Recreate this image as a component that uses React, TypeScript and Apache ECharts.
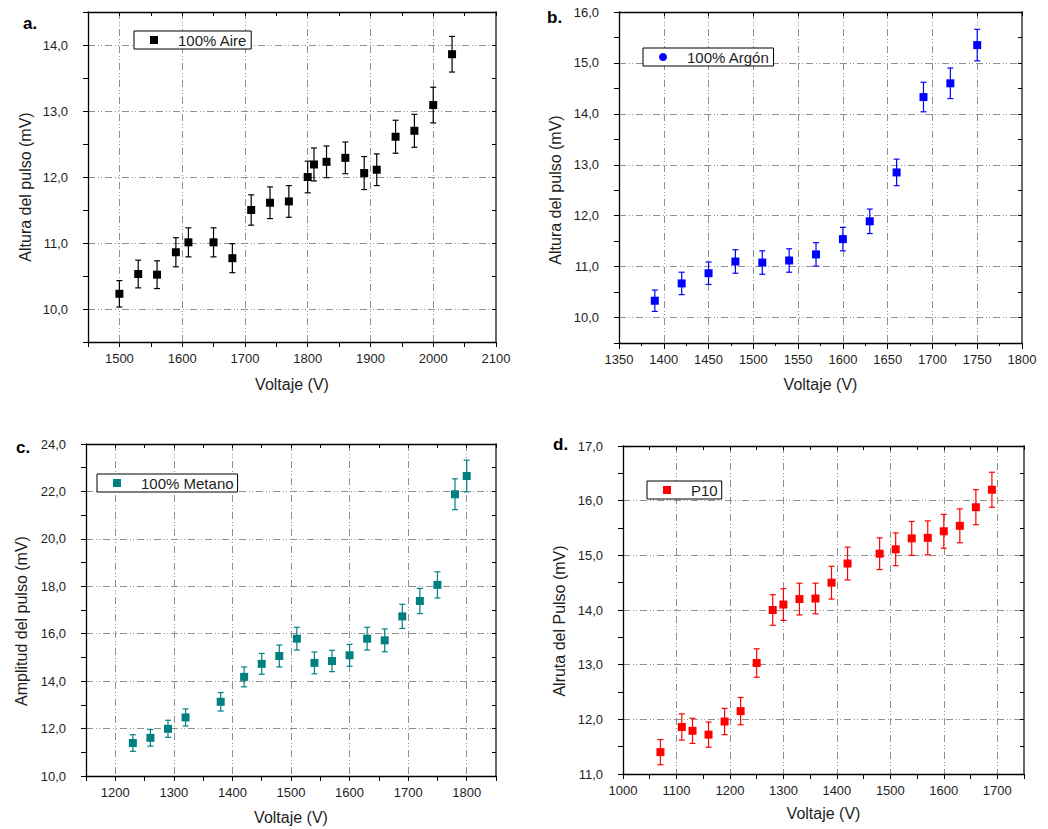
import React, { useEffect, useRef } from 'react';
import * as echarts from 'echarts';

// ---------- DATA ----------
// a. 100% Aire
const aireVoltage = [1500, 1530, 1560, 1590, 1610, 1650, 1680, 1710, 1740, 1770, 1800, 1810, 1830, 1860, 1890, 1910, 1940, 1970, 2000, 2030];
const aireHeight = [10.23, 10.53, 10.52, 10.86, 11.01, 11.01, 10.77, 11.5, 11.61, 11.63, 12.0, 12.19, 12.23, 12.29, 12.06, 12.11, 12.61, 12.7, 13.09, 13.86];
const aireError = [0.2, 0.21, 0.21, 0.22, 0.22, 0.22, 0.22, 0.23, 0.24, 0.24, 0.24, 0.25, 0.24, 0.24, 0.25, 0.24, 0.25, 0.25, 0.27, 0.27];

// b. 100% Argón
const argonVoltage = [1390, 1420, 1450, 1480, 1510, 1540, 1570, 1600, 1630, 1660, 1690, 1720, 1750];
const argonHeight = [10.33, 10.67, 10.87, 11.1, 11.08, 11.12, 11.24, 11.54, 11.89, 12.85, 14.33, 14.6, 15.35];
const argonError = [0.21, 0.22, 0.22, 0.23, 0.23, 0.23, 0.23, 0.23, 0.24, 0.26, 0.29, 0.3, 0.31];

// c. 100% Metano
const metanoVoltage = [1230, 1260, 1290, 1320, 1380, 1420, 1450, 1480, 1510, 1540, 1570, 1600, 1630, 1660, 1690, 1720, 1750, 1780, 1800];
const metanoAmplitude = [11.39, 11.61, 11.99, 12.47, 13.13, 14.18, 14.73, 15.06, 15.79, 14.77, 14.85, 15.09, 15.79, 15.72, 16.73, 17.38, 18.06, 21.88, 22.65];
const metanoError = [0.35, 0.35, 0.36, 0.36, 0.39, 0.42, 0.44, 0.46, 0.48, 0.46, 0.45, 0.46, 0.48, 0.48, 0.51, 0.53, 0.55, 0.65, 0.67];

// d. P10
const p10Voltage = [1070, 1110, 1130, 1160, 1190, 1220, 1250, 1280, 1300, 1330, 1360, 1390, 1420, 1480, 1510, 1540, 1570, 1600, 1630, 1660, 1690];
const p10Height = [11.4, 11.86, 11.79, 11.72, 11.96, 12.15, 13.03, 14.0, 14.1, 14.2, 14.21, 14.5, 14.85, 15.03, 15.11, 15.31, 15.32, 15.44, 15.54, 15.88, 16.2];
const p10Error = [0.23, 0.24, 0.23, 0.23, 0.24, 0.25, 0.26, 0.28, 0.29, 0.29, 0.28, 0.3, 0.3, 0.29, 0.3, 0.31, 0.31, 0.31, 0.31, 0.32, 0.32];

// ---------- STYLE / LAYOUT ----------
const FONT = "'Liberation Sans', Arial, Helvetica, sans-serif";
const GRIDC = '#8f8f8f';
const TX = '#1e1e1e';

const panels = [
  {
    letter: 'a.', letterPos: [23, 32],
    grid: { left: 88, top: 12, width: 408, height: 330 },
    x: { min: 1450, max: 2100, interval: 50, every: 100, colors: ['transparent', GRIDC], minor: false },
    y: { min: 9.5, max: 14.5, interval: 0.5, every: 1, colors: ['transparent', GRIDC] },
    name: '100% Aire', color: '#000000', icon: 'rect',
    xs: aireVoltage, ys: aireHeight, es: aireError,
    yName: 'Altura del pulso (mV)', yNamePos: [25, 187],
    legend: { left: 134, top: 31 }, xNameGap: 34,
  },
  {
    letter: 'b.', letterPos: [547, 26],
    grid: { left: 619, top: 12, width: 403, height: 331 },
    x: { min: 1350, max: 1800, interval: 50, every: 50, colors: [GRIDC], minor: true },
    y: { min: 9.5, max: 16, interval: 0.5, every: 1, colors: ['transparent', GRIDC] },
    name: '100% Argón', color: '#0000ff', icon: 'circle',
    xs: argonVoltage, ys: argonHeight, es: argonError,
    yName: 'Altura del pulso (mV)', yNamePos: [555, 190],
    legend: { left: 643, top: 48 }, xNameGap: 33,
  },
  {
    letter: 'c.', letterPos: [16, 456],
    grid: { left: 86, top: 444, width: 410, height: 332 },
    x: { min: 1150, max: 1850, interval: 50, every: 100, colors: ['transparent', GRIDC], minor: false },
    y: { min: 10, max: 24, interval: 1, every: 2, colors: [GRIDC, 'transparent'] },
    name: '100% Metano', color: '#008080', icon: 'rect',
    xs: metanoVoltage, ys: metanoAmplitude, es: metanoError,
    yName: 'Amplitud del pulso (mV)', yNamePos: [21, 621],
    legend: { left: 97, top: 474 }, xNameGap: 33,
  },
  {
    letter: 'd.', letterPos: [553, 453],
    grid: { left: 623, top: 446, width: 401, height: 328 },
    x: { min: 1000, max: 1750, interval: 50, every: 100, colors: [GRIDC, 'transparent'], minor: false },
    y: { min: 11, max: 17, interval: 0.5, every: 1, colors: [GRIDC, 'transparent'] },
    name: 'P10', color: '#ff0000', icon: 'rect',
    xs: p10Voltage, ys: p10Height, es: p10Error,
    yName: 'Alruta del Pulso (mV)', yNamePos: [559, 621],
    legend: { left: 647, top: 481 }, xNameGap: 31,
  },
];

const onStep = (v: number, every: number) => Math.abs(v / every - Math.round(v / every)) < 1e-6;
const dashed = [7, 3, 1, 2, 1, 3];

function buildOption() {
  const grid: any[] = [];
  const xAxis: any[] = [];
  const yAxis: any[] = [];
  const series: any[] = [];
  const legend: any[] = [];
  const graphic: any[] = [];

  panels.forEach((p, i) => {
    grid.push({ ...p.grid, containLabel: false });
    const lineBlack = { show: true, onZero: false, lineStyle: { color: '#000', width: 1.3 } };
    // bottom x axis
    xAxis.push({
      type: 'value', gridIndex: i, position: 'bottom', min: p.x.min, max: p.x.max, interval: p.x.interval,
      name: 'Voltaje (V)', nameLocation: 'middle', nameGap: p.xNameGap,
      nameTextStyle: { fontFamily: FONT, fontSize: 16, color: TX },
      axisLine: lineBlack,
      axisTick: { show: true, inside: false, length: p.x.minor ? 6 : 5, lineStyle: { color: '#000' } },
      minorTick: { show: p.x.minor, splitNumber: 2, length: 3, lineStyle: { color: '#000' } },
      axisLabel: {
        show: true, margin: 10, fontFamily: FONT, fontSize: 13, color: TX,
        formatter: (v: number) => (onStep(v, p.x.every) ? String(Math.round(v)) : ''),
      },
      splitLine: { show: true, showMinLine: true, showMaxLine: true, lineStyle: { color: p.x.colors, type: dashed, width: 1 } },
    });
    // top x axis (frame)
    xAxis.push({
      type: 'value', gridIndex: i, position: 'top', min: p.x.min, max: p.x.max, interval: p.x.interval,
      axisLine: lineBlack,
      axisTick: { show: true, inside: true, length: 4, lineStyle: { color: '#000' } },
      axisLabel: { show: false }, splitLine: { show: false },
    });
    // left y axis
    yAxis.push({
      type: 'value', gridIndex: i, position: 'left', min: p.y.min, max: p.y.max, interval: p.y.interval,
      axisLine: lineBlack,
      axisTick: { show: true, inside: false, length: 5, lineStyle: { color: '#000' } },
      axisLabel: {
        show: true, margin: 20, fontFamily: FONT, fontSize: 13, color: TX,
        formatter: (v: number) => (onStep(v, p.y.every) ? v.toFixed(1).replace('.', ',') : ''),
      },
      splitLine: { show: true, showMinLine: true, showMaxLine: true, lineStyle: { color: p.y.colors, type: dashed, width: 1 } },
    });
    // right y axis (frame)
    yAxis.push({
      type: 'value', gridIndex: i, position: 'right', min: p.y.min, max: p.y.max, interval: p.y.interval,
      axisLine: { show: true, onZero: false, lineStyle: { color: '#6a6a6a', width: 2 } },
      axisTick: { show: true, inside: true, length: 4, lineStyle: { color: '#000' } },
      axisLabel: { show: false }, splitLine: { show: false },
    });

    const pts = p.xs.map((x, k) => [x, p.ys[k]]);
    const bars = p.xs.map((x, k) => [x, p.ys[k] - p.es[k], p.ys[k] + p.es[k]]);
    const color = p.color;

    series.push({
      name: p.name + ' err', type: 'custom', xAxisIndex: 2 * i, yAxisIndex: 2 * i,
      data: bars, encode: { x: 0, y: [1, 2] }, z: 3, silent: true,
      renderItem: (_params: any, api: any) => {
        const x = api.value(0);
        const top = api.coord([x, api.value(2)]);
        const bot = api.coord([x, api.value(1)]);
        const w = 3;
        const st = { stroke: color, lineWidth: 1.2 };
        return {
          type: 'group',
          children: [
            { type: 'line', shape: { x1: top[0], y1: top[1], x2: bot[0], y2: bot[1] }, style: st },
            { type: 'line', shape: { x1: top[0] - w, y1: top[1], x2: top[0] + w, y2: top[1] }, style: st },
            { type: 'line', shape: { x1: bot[0] - w, y1: bot[1], x2: bot[0] + w, y2: bot[1] }, style: st },
          ],
        };
      },
    });
    series.push({
      name: p.name, type: 'scatter', xAxisIndex: 2 * i, yAxisIndex: 2 * i,
      data: pts, symbol: 'rect', symbolSize: 8, z: 4,
      itemStyle: { color, opacity: 1 },
    });

    legend.push({
      data: [{ name: p.name, icon: p.icon }],
      left: p.legend.left, top: p.legend.top,
      orient: 'horizontal',
      itemWidth: 8, itemHeight: 8, itemGap: 0,
      padding: [1, 4, 1, 16],
      borderColor: '#000', borderWidth: 1, backgroundColor: '#fff',
      itemStyle: { opacity: 1 },
      textStyle: { fontFamily: FONT, fontSize: 15, color: TX, padding: [0, 0, 0, 15], lineHeight: 16 },
      selectedMode: false,
      z: 10,
    });

    graphic.push({
      type: 'text', x: p.letterPos[0], y: p.letterPos[1],
      style: { text: p.letter, fontFamily: FONT, fontSize: 17, fontWeight: 'bold', fill: '#000', textVerticalAlign: 'bottom', verticalAlign: 'bottom' },
    });
    graphic.push({
      type: 'text', x: p.yNamePos[0], y: p.yNamePos[1], rotation: Math.PI / 2,
      style: { text: p.yName, fontFamily: FONT, fontSize: 16, fill: TX, align: 'center', verticalAlign: 'middle' },
    });
  });

  return { animation: false, backgroundColor: '#ffffff', grid, xAxis, yAxis, series, legend, graphic };
}

export default function App() {
  const ref = useRef<HTMLDivElement>(null);
  useEffect(() => {
    if (!ref.current) return;
    const chart = echarts.init(ref.current, null, { renderer: 'svg' });
    chart.setOption(buildOption());
    return () => chart.dispose();
  }, []);
  return (
    <div
      ref={ref}
      style={{ position: 'fixed', left: 0, top: 0, width: 1048, height: 829, background: '#fff' }}
    />
  );
}
